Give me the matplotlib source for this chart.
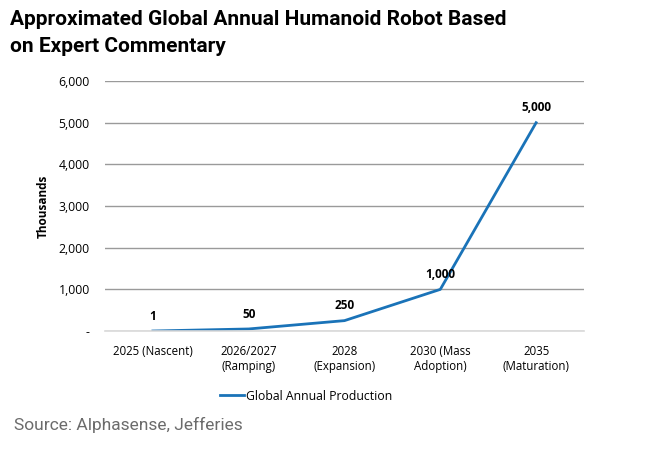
import matplotlib
matplotlib.use("Agg")
import matplotlib.pyplot as plt
from matplotlib.ticker import FuncFormatter

# ── Data ─────────────────────────────────────────────────────────────────────
categories = ["2025 (Nascent)", "2026/2027\n(Ramping)", "2028\n(Expansion)",
              "2030 (Mass\nAdoption)", "2035\n(Maturation)"]
production = [1, 50, 250, 1000, 5000]
y_ticks = [0, 1000, 2000, 3000, 4000, 5000, 6000]

LINE_COLOR = "#1a73b8"

plt.rcParams["font.family"] = ["Open Sans", "DejaVu Sans"]

fig = plt.figure(figsize=(6.5, 4.63), dpi=100)
ax = fig.add_axes([0.1615, 0.285, 0.737, 0.54])

x = list(range(len(categories)))
ax.plot(x, production, color=LINE_COLOR, linewidth=2, label="Global Annual Production")

for xi, v in zip(x, production):
    ax.annotate(f"{v:,}", (xi, v), xytext=(0, 6), textcoords="offset points",
                ha="center", va="bottom", fontsize=8.5, fontweight="bold")

ax.set_xlim(-0.5, len(categories) - 0.5)
ax.set_ylim(0, 6000)
ax.set_yticks(y_ticks)
ax.yaxis.set_major_formatter(FuncFormatter(lambda v, p: "-" if v == 0 else f"{int(v):,}"))
ax.set_xticks(x)
ax.set_xticklabels(categories, fontsize=8.3)
ax.tick_params(axis="y", labelsize=8.8, length=0, pad=11)
ax.tick_params(axis="x", length=0, pad=10)

ax.grid(axis="y", color="#9a9a9a", linewidth=1)
ax.set_axisbelow(True)
for s in ["top", "right", "left"]:
    ax.spines[s].set_visible(False)
ax.spines["bottom"].set_color("#d9d9d9")
ax.spines["bottom"].set_linewidth(1.2)

ax.set_ylabel("Thousands", fontsize=8.5, fontweight="bold", labelpad=6)

ax.legend(loc="upper center", bbox_to_anchor=(0.42, -0.19), frameon=False,
          fontsize=8.8, handlelength=2.0, handletextpad=0.2)

fig.text(0.015, 0.978, "Approximated Global Annual Humanoid Robot Based\non Expert Commentary",
         fontsize=15, fontweight="bold", va="top", ha="left", linespacing=1.55,
         family=["Roboto", "DejaVu Sans"])
fig.text(0.022, 0.082, "Source: Alphasense, Jefferies", fontsize=12.5, color="#6b6b6b",
         va="center", ha="left", family=["Roboto", "DejaVu Sans"])

fig.savefig("out.png", dpi=100)
